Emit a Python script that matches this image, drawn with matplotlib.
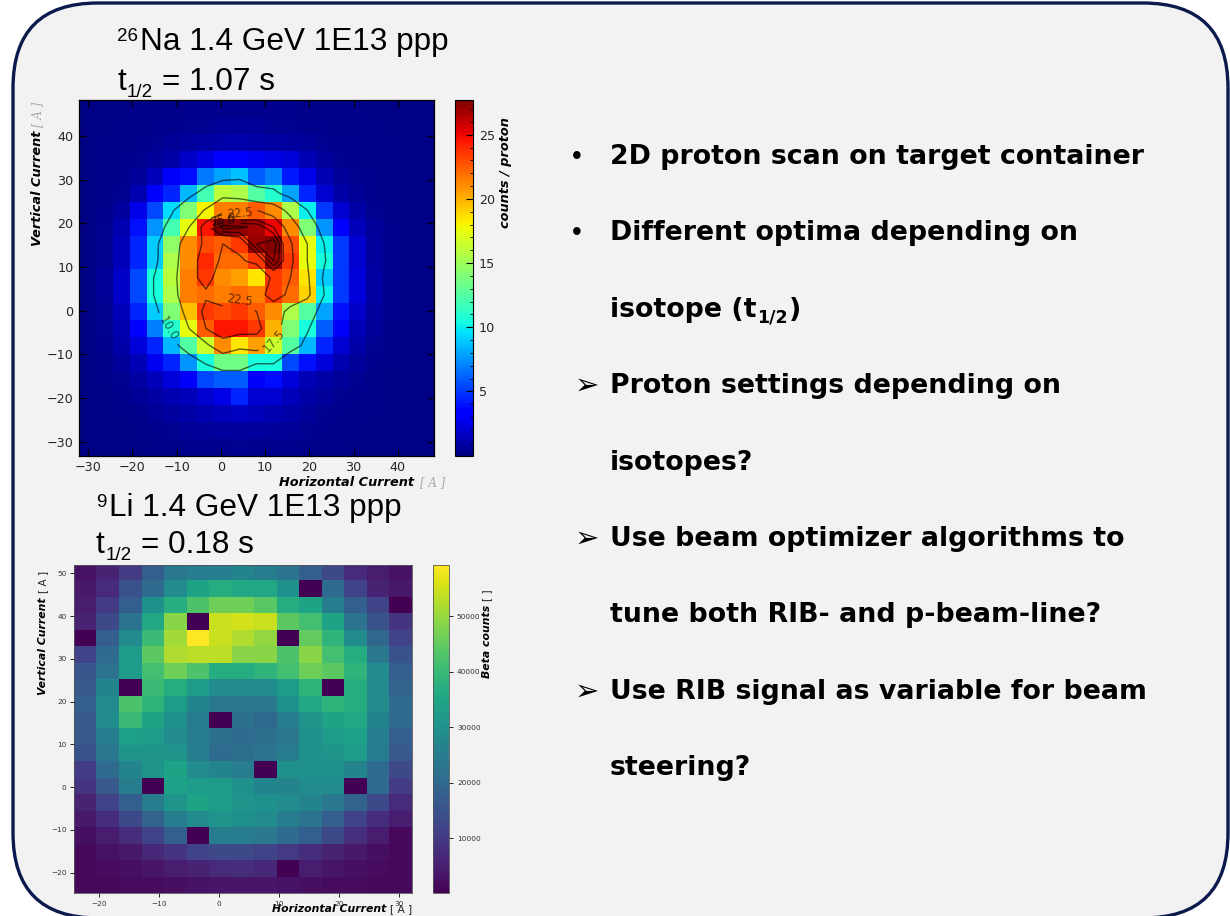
import numpy as np
import matplotlib
matplotlib.use("Agg")
import matplotlib.pyplot as plt
from matplotlib.patches import FancyBboxPatch
from matplotlib.ticker import MultipleLocator

# ---------------------------------------------------------------------------
# 26Na 2D proton scan: counts / proton, rows from high to low vertical current
# ---------------------------------------------------------------------------
na26_counts = [
    [0.2, 0.2, 0.2, 0.3, 0.3, 0.3, 0.4, 0.4, 0.4, 0.4, 0.4, 0.4, 0.4, 0.3, 0.3, 0.3, 0.3, 0.2, 0.2, 0.2, 0.2],
    [0.2, 0.2, 0.3, 0.3, 0.4, 0.4, 0.5, 0.5, 0.6, 0.6, 0.6, 0.5, 0.5, 0.4, 0.4, 0.3, 0.3, 0.3, 0.2, 0.2, 0.2],
    [0.2, 0.3, 0.3, 0.4, 0.5, 0.6, 0.8, 0.9, 1.0, 1.1, 1.0, 0.9, 0.8, 0.7, 0.5, 0.4, 0.4, 0.3, 0.3, 0.2, 0.2],
    [0.2, 0.3, 0.4, 0.5, 0.7, 1.0, 1.8, 2.3, 3.2, 3.4, 2.8, 2.4, 2.2, 1.3, 0.8, 0.5, 0.4, 0.3, 0.3, 0.2, 0.2],
    [0.2, 0.3, 0.4, 0.7, 1.5, 3.0, 3.8, 6.8, 8.0, 8.7, 6.0, 7.0, 4.2, 2.5, 1.4, 0.7, 0.5, 0.4, 0.3, 0.2, 0.2],
    [0.2, 0.3, 0.5, 1.2, 3.2, 4.5, 8.5, 12.0, 16.0, 15.5, 12.5, 11.0, 8.0, 4.5, 2.0, 1.0, 0.6, 0.4, 0.3, 0.2, 0.2],
    [0.2, 0.4, 0.8, 2.5, 5.5, 9.5, 14.0, 18.0, 21.5, 21.5, 22.5, 21.0, 15.5, 10.0, 5.0, 2.0, 1.0, 0.5, 0.3, 0.2, 0.2],
    [0.2, 0.5, 1.2, 4.0, 7.5, 12.0, 17.5, 24.5, 27.5, 27.2, 26.8, 25.0, 21.0, 14.0, 7.5, 3.5, 1.5, 0.7, 0.4, 0.2, 0.2],
    [0.2, 0.5, 1.5, 4.5, 9.0, 14.5, 21.0, 23.0, 22.5, 23.5, 27.0, 27.7, 23.0, 17.5, 10.0, 5.0, 2.0, 0.8, 0.4, 0.2, 0.2],
    [0.2, 0.5, 1.5, 4.5, 9.0, 15.5, 21.0, 24.0, 22.0, 22.0, 23.5, 27.0, 23.5, 17.5, 10.5, 5.0, 2.0, 0.8, 0.4, 0.2, 0.2],
    [0.2, 0.6, 1.8, 5.5, 10.5, 16.0, 21.5, 23.5, 21.0, 20.5, 18.5, 23.5, 22.5, 18.5, 9.0, 5.0, 2.2, 0.9, 0.4, 0.2, 0.2],
    [0.2, 0.6, 1.8, 5.5, 10.5, 15.5, 21.5, 22.0, 21.5, 22.0, 21.5, 23.5, 22.0, 19.0, 10.0, 5.0, 2.2, 0.9, 0.4, 0.2, 0.2],
    [0.2, 0.5, 1.5, 4.5, 9.0, 14.0, 19.5, 23.5, 23.0, 23.5, 22.5, 21.0, 15.5, 12.5, 8.0, 4.0, 1.8, 0.8, 0.4, 0.2, 0.2],
    [0.2, 0.5, 1.2, 3.5, 7.0, 11.0, 17.5, 22.5, 24.5, 24.5, 23.5, 20.0, 14.0, 10.5, 6.0, 3.0, 1.4, 0.7, 0.3, 0.2, 0.2],
    [0.2, 0.4, 1.0, 2.2, 4.5, 8.5, 12.5, 16.5, 21.0, 18.5, 20.5, 16.5, 12.5, 8.5, 4.5, 2.0, 1.0, 0.5, 0.3, 0.2, 0.2],
    [0.2, 0.3, 0.7, 1.4, 2.8, 4.5, 7.5, 10.5, 13.5, 13.5, 10.5, 10.5, 5.5, 4.0, 2.2, 1.2, 0.7, 0.4, 0.3, 0.2, 0.2],
    [0.2, 0.3, 0.5, 0.9, 1.5, 2.2, 3.0, 5.5, 6.0, 6.0, 3.0, 3.8, 2.2, 1.4, 1.0, 0.7, 0.5, 0.3, 0.2, 0.2, 0.2],
    [0.2, 0.2, 0.4, 0.6, 0.9, 1.2, 1.5, 2.0, 2.5, 4.5, 2.0, 2.0, 1.5, 1.0, 0.7, 0.5, 0.4, 0.3, 0.2, 0.2, 0.2],
    [0.2, 0.2, 0.3, 0.4, 0.6, 0.8, 1.0, 1.2, 1.5, 1.7, 1.5, 1.2, 1.0, 0.7, 0.5, 0.4, 0.3, 0.3, 0.2, 0.2, 0.2],
    [0.2, 0.2, 0.2, 0.3, 0.4, 0.5, 0.6, 0.7, 0.8, 0.8, 0.8, 0.7, 0.6, 0.5, 0.4, 0.3, 0.3, 0.2, 0.2, 0.2, 0.2],
    [0.2, 0.2, 0.2, 0.2, 0.3, 0.3, 0.4, 0.4, 0.4, 0.5, 0.4, 0.4, 0.4, 0.3, 0.3, 0.3, 0.2, 0.2, 0.2, 0.2, 0.2],
]
na26_h_range = (-32.0, 48.2)     # horizontal current, A (cell edges)
na26_v_range = (-33.2, 48.2)     # vertical current, A (cell edges)
na26_contour_levels = [10.0, 17.5, 22.5, 25.0, 26.0, 27.0]
na26_axis_ticks = [-30, -20, -10, 0, 10, 20, 30, 40]
na26_cbar_ticks = [5, 10, 15, 20, 25]

# ---------------------------------------------------------------------------
# 9Li 2D proton scan: beta counts, rows from high to low vertical current
# ---------------------------------------------------------------------------
li9_counts = [
    [3100, 6000, 10700, 17800, 23700, 24900, 25500, 26700, 24900, 22600, 17800, 13100, 7200, 4800, 3100],
    [4200, 7200, 14900, 20800, 28500, 34400, 36700, 35600, 35600, 29700, 100, 20800, 11900, 6000, 4200],
    [4800, 10700, 17800, 29700, 37300, 42700, 46200, 46200, 43800, 36700, 34400, 24900, 17800, 11900, 100],
    [6000, 13100, 22600, 35600, 48600, 100, 54500, 55100, 54500, 44400, 41500, 34400, 22600, 14900, 9000],
    [100, 17800, 28500, 40300, 50900, 59200, 54500, 52100, 49700, 100, 45000, 38500, 28500, 19600, 11900],
    [11900, 20800, 32600, 44400, 52100, 53300, 53300, 48600, 48600, 42700, 48600, 41500, 36700, 23700, 14900],
    [16100, 22600, 32600, 41500, 46200, 42700, 36700, 36700, 38500, 41500, 46200, 44400, 38500, 28500, 17800],
    [16600, 26700, 100, 40300, 36700, 32600, 28500, 28500, 28500, 32600, 38500, 100, 36700, 28500, 19000],
    [17800, 28500, 42700, 38500, 32600, 26700, 23700, 23700, 23700, 29700, 35600, 38500, 36700, 28500, 20800],
    [16600, 28500, 40300, 34400, 29700, 24900, 100, 22000, 20200, 24900, 30800, 34400, 35600, 26700, 20800],
    [16600, 24900, 33800, 32600, 28500, 24900, 22000, 20800, 22000, 23700, 29700, 32600, 33800, 25500, 17800],
    [14900, 23700, 30800, 30800, 30800, 24900, 20800, 21400, 22600, 24900, 29700, 30800, 32600, 24900, 16600],
    [10700, 20800, 26700, 30800, 34400, 28500, 26700, 24900, 100, 29700, 29700, 29700, 26700, 20800, 13100],
    [9000, 16600, 24900, 100, 33800, 32600, 32600, 29700, 26700, 26700, 28500, 28500, 100, 20800, 10700],
    [6000, 11900, 17800, 24900, 30800, 34400, 32600, 30800, 29700, 28500, 26700, 23700, 19000, 13100, 7200],
    [4200, 7800, 13100, 19000, 24900, 28500, 30800, 29700, 28500, 24900, 22600, 17800, 11900, 7800, 4800],
    [2500, 4800, 7800, 11900, 17800, 100, 24900, 24900, 23700, 20800, 17800, 13100, 8400, 4800, 1300],
    [1300, 3100, 4200, 6600, 9000, 11900, 13100, 13100, 11900, 10100, 7800, 6000, 4200, 2500, 1300],
    [1300, 1900, 2500, 3600, 4800, 6000, 7200, 7800, 6600, 100, 4800, 3600, 2500, 1900, 1300],
    [1300, 1300, 1900, 1900, 2500, 3100, 3600, 3600, 3600, 3100, 2500, 1900, 1900, 1300, 1300],
]
li9_h_range = (-24.06, 32.16)
li9_v_range = (-24.8, 51.95)
li9_x_ticks = [-20, -10, 0, 10, 20, 30]
li9_y_ticks = [-20, -10, 0, 10, 20, 30, 40, 50]
li9_cbar_ticks = [10000, 20000, 30000, 40000, 50000]

# Slide text
na26_title = ("26", "Na 1.4 GeV 1E13 ppp")
na26_halflife = "= 1.07 s"
li9_title = ("9", "Li 1.4 GeV 1E13 ppp")
li9_halflife = "= 0.18 s"
bullet_lines = [
    ("\u2022", "2D proton scan on target container"),
    ("\u2022", "Different optima depending on"),
    ("", "isotope (t"),
    ("\u27a2", "Proton settings depending on"),
    ("", "isotopes?"),
    ("\u27a2", "Use beam optimizer algorithms to"),
    ("", "tune both RIB- and p-beam-line?"),
    ("\u27a2", "Use RIB signal as variable for beam"),
    ("", "steering?"),
]

# ---------------------------------------------------------------------------
W, H = 1230, 916
fig = plt.figure(figsize=(W / 100, H / 100), dpi=100)
fig.patch.set_facecolor("white")

# full-figure layer in pixel units (y downwards) for the panel and slide text
bg = fig.add_axes([0, 0, 1, 1], zorder=-5)
bg.set_xlim(0, W)
bg.set_ylim(H, 0)
bg.axis("off")
bg.add_patch(FancyBboxPatch((13, 3), 1215, 915,
                            boxstyle="round,pad=0,rounding_size=85",
                            fc="#f2f2f2", ec="#0b1a4d", lw=2.4))

renderer = fig.canvas.get_renderer()


def text_run(x, y, pieces, rotation=0, ax=None):
    """Write consecutive text pieces; each piece is (text, gap, shift, kwargs)."""
    ax = ax or bg
    for s, gap, shift, kw in pieces:
        if rotation == 0:
            x += gap
            t = ax.text(x, y + shift, s, ha="left", va="baseline", **kw)
            x += t.get_window_extent(renderer).width
        else:
            y -= gap
            t = ax.text(x + shift, y, s, rotation=90, rotation_mode="anchor",
                        ha="left", va="baseline", **kw)
            y -= t.get_window_extent(renderer).height
    return x, y


def px_axes(left, top, right, bottom):
    return fig.add_axes([left / W, 1 - bottom / H, (right - left) / W, (bottom - top) / H])


label_dark = dict(family="DejaVu Sans", weight="bold", style="italic", color="black")
unit_grey = dict(family="DejaVu Serif", style="italic", color="#a8a8a8")

# ---------------- 26Na heat map ----------------
na = np.array(na26_counts)
ax1 = px_axes(79.3, 100.0, 434.0, 455.7)
ext1 = [na26_h_range[0], na26_h_range[1], na26_v_range[0], na26_v_range[1]]
im1 = ax1.imshow(na, cmap="jet", origin="upper", extent=ext1, aspect="auto",
                 interpolation="nearest", vmin=0, vmax=na.max())
ny, nx = na.shape
xc = ext1[0] + (ext1[1] - ext1[0]) / nx * (np.arange(nx) + 0.5)
yc = ext1[2] + (ext1[3] - ext1[2]) / ny * (np.arange(ny) + 0.5)
cs = ax1.contour(xc, yc, na[::-1], levels=na26_contour_levels, colors="k",
                 linewidths=1.0, alpha=0.6)
ax1.clabel(cs, fmt="%.1f", fontsize=8.5, inline=True)
ax1.set_xlim(ext1[0], ext1[1])
ax1.set_ylim(ext1[2], ext1[3])
ax1.set_xticks(na26_axis_ticks)
ax1.set_yticks(na26_axis_ticks)
ax1.tick_params(direction="in", top=True, right=True, length=5, width=0.8,
                labelsize=9.2, labelcolor="#262626", pad=4)
for sp in ax1.spines.values():
    sp.set_linewidth(0.9)

cax1 = px_axes(455.0, 100.0, 473.3, 455.7)
cb1 = fig.colorbar(im1, cax=cax1)
cb1.set_ticks(na26_cbar_ticks)
cax1.yaxis.set_minor_locator(MultipleLocator(1))
cax1.tick_params(which="major", direction="in", length=5, width=0.8,
                 labelsize=9.2, labelcolor="#262626", pad=4)
cax1.tick_params(which="minor", direction="in", length=2.5, width=0.6)
cb1.outline.set_linewidth(0.8)

text_run(279, 486, [("Horizontal Current", 0, 0, dict(size=9.3, **label_dark)),
                    ("[ A ]", 6, 0, dict(size=8.5, **unit_grey))])
text_run(41, 246, [("Vertical Current", 0, 0, dict(size=9.3, **label_dark)),
                   ("[ A ]", 4, 0, dict(size=8.5, **unit_grey))], rotation=90)
text_run(509, 228, [("counts / proton", 0, 0, dict(size=9.3, **label_dark))], rotation=90)

# ---------------- 9Li heat map ----------------
li = np.array(li9_counts)
ax2 = px_axes(74.3, 565.0, 412.3, 893.3)
ext2 = [li9_h_range[0], li9_h_range[1], li9_v_range[0], li9_v_range[1]]
im2 = ax2.imshow(li, cmap="viridis", origin="upper", extent=ext2, aspect="auto",
                 interpolation="nearest")
ax2.set_xlim(ext2[0], ext2[1])
ax2.set_ylim(ext2[2], ext2[3])
ax2.set_xticks(li9_x_ticks)
ax2.set_yticks(li9_y_ticks)
ax2.tick_params(length=3, width=0.6, labelsize=5.3, labelcolor="#333333", pad=2.5)
for sp in ax2.spines.values():
    sp.set_linewidth(0.6)
    sp.set_color("#555555")

cax2 = px_axes(433.3, 565.0, 449.3, 893.3)
cb2 = fig.colorbar(im2, cax=cax2)
cb2.set_ticks(li9_cbar_ticks)
cax2.tick_params(length=3, width=0.6, labelsize=5.3, labelcolor="#333333", pad=2.5)
cb2.outline.set_linewidth(0.6)
cb2.outline.set_edgecolor("#555555")

small_bold = dict(family="DejaVu Sans", weight="bold", style="italic", color="black", size=7.8)
small_unit = dict(family="DejaVu Sans", color="#222222", size=7.6)
text_run(272, 912.5, [("Horizontal Current", 0, 0, small_bold), ("[ A ]", 4, 0, small_unit)])
text_run(46, 695, [("Vertical Current", 0, 0, small_bold), ("[ A ]", 4, 0, small_unit)], rotation=90)
text_run(490.5, 678, [("Beta counts", 0, 0, small_bold), ("[ ]", 4, 0, small_unit)], rotation=90)

# ---------------- titles ----------------
big = dict(family="Liberation Sans", size=22.7, color="black")
sup = dict(family="Liberation Sans", size=13.5, color="black")
text_run(117, 50, [(na26_title[0], 0, -9, sup), (na26_title[1], 2, 0, big)])
text_run(117, 90, [("t", 0, 0, big), ("1/2", 1, 7, sup), (na26_halflife, 9, 0, big)])
text_run(96, 516, [(li9_title[0], 0, -9, sup), (li9_title[1], 3, 0, big)])
text_run(96, 553, [("t", 0, 0, big), ("1/2", 1, 7, sup), (li9_halflife, 9, 0, big)])

# ---------------- bullet list ----------------
body = dict(family="DejaVu Sans", weight="bold", size=19.3, color="black")
y0, dy_line = 164.0, 76.4
for i, (mark, line) in enumerate(bullet_lines):
    y = y0 + i * dy_line
    if mark == "\u2022":
        bg.text(572, y, mark, ha="left", va="baseline", family="Liberation Sans",
                size=20, color="black")
    elif mark:
        bg.text(575, y + 1, mark, ha="left", va="baseline",
                family=["DejaVu Sans"], weight="bold", size=21, color="black")
    if line.endswith("(t"):
        text_run(610, y, [(line, 0, 0, body),
                          ("1/2", 1, 6, dict(body, size=12.5)),
                          (")", 1, 0, body)])
    else:
        bg.text(610, y, line, ha="left", va="baseline", **body)

fig.savefig("out.png", dpi=100, facecolor=fig.get_facecolor())
